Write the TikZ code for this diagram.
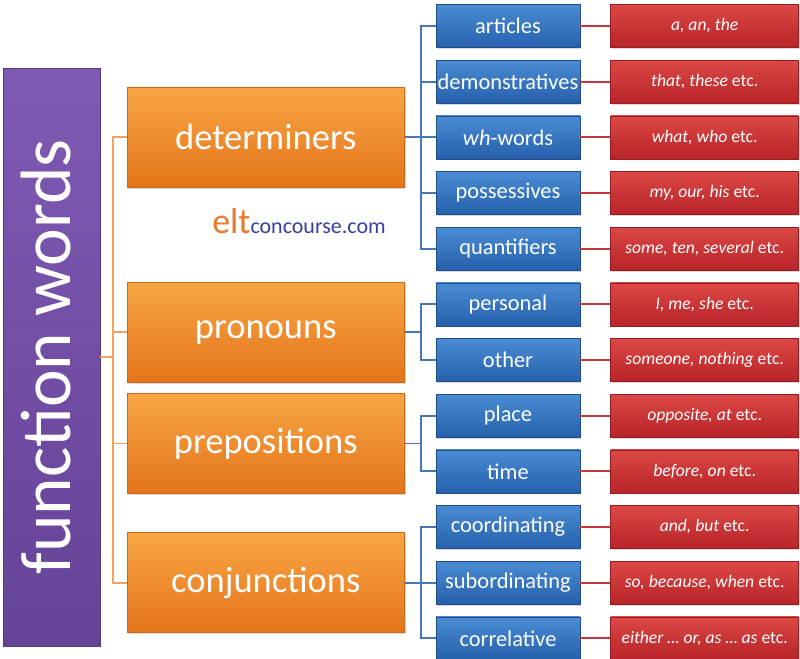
\documentclass[tikz,border=0pt]{standalone}
\usepackage{fontspec}
\setmainfont{Carlito}
\usetikzlibrary{positioning, calc, shadows}
\definecolor{purpletop}{HTML}{7F5AB3}
\definecolor{purplebot}{HTML}{654397}
\definecolor{orangetop}{HTML}{F8A645}
\definecolor{orangebot}{HTML}{E4741A}
\definecolor{bluetop}{HTML}{4A8CD4}
\definecolor{bluebot}{HTML}{2660AC}
\definecolor{redtop}{HTML}{DC4845}
\definecolor{redbot}{HTML}{B82428}
\definecolor{linkorange}{HTML}{F0A260}
\definecolor{linkblue}{HTML}{4678B8}
\definecolor{linkred}{HTML}{C43A3A}
\definecolor{logoorange}{HTML}{E97A2C}
\definecolor{logoblue}{HTML}{3A3CA6}

\begin{document}
\begin{tikzpicture}[
    x=0.75pt, y=-0.75pt,
    every node/.style={text=white},
    rootbox/.style={rectangle, minimum width=72.75pt, minimum height=433.5pt, inner sep=0pt, top color=purpletop, bottom color=purplebot, draw=purplebot!85!black, line width=0.5pt, drop shadow={shadow xshift=1pt, shadow yshift=-1pt, opacity=0.3}, font=\fontsize{53.5}{54}\selectfont},
    catbox/.style={rectangle, minimum width=207.75pt, minimum height=75pt, inner sep=1pt, top color=orangetop, bottom color=orangebot, draw=orangebot!90!black, line width=0.5pt, drop shadow={shadow xshift=1pt, shadow yshift=-1pt, opacity=0.3}, font=\fontsize{27.4}{30}\selectfont},
    subbox/.style={rectangle, minimum width=108pt, minimum height=32.25pt, inner sep=1pt, top color=bluetop, bottom color=bluebot, draw=bluebot!80!black, line width=0.5pt, drop shadow={shadow xshift=1pt, shadow yshift=-1pt, opacity=0.3}, font=\fontsize{16.8}{18}\selectfont},
    exbox/.style={rectangle, minimum width=141pt, minimum height=32.25pt, inner sep=1pt, top color=redtop, bottom color=redbot, draw=redbot!80!black, line width=0.5pt, drop shadow={shadow xshift=1pt, shadow yshift=-1pt, opacity=0.3}, font=\fontsize{13.2}{15}\selectfont},
    trunk/.style={draw=linkorange, line width=1.4pt},
    branch/.style={draw=linkblue, line width=1.4pt},
    twig/.style={draw=linkred, line width=1.4pt}
]
    \useasboundingbox (0,0) rectangle (800,658);

    % Root
    \node[rootbox] (root) at (51.5,357) {\rotatebox{90}{\raisebox{4pt}[\height][0pt]{function words}}};

    % Sub-categories, top to bottom
    \node[subbox] (articles) at (508,26) {articles};
    \node[subbox, below=9pt of articles] (demonstr) {demonstratives};
    \node[subbox, below=9pt of demonstr] (whwords) {\textit{wh}-words};
    \node[subbox, below=9pt of whwords] (possess) {possessives};
    \node[subbox, below=9pt of possess] (quant) {quantifiers};
    \node[subbox, below=9pt of quant] (personal) {personal};
    \node[subbox, below=9pt of personal] (other) {other};
    \node[subbox, below=9pt of other] (place) {place};
    \node[subbox, below=9pt of place] (time) {time};
    \node[subbox, below=9pt of time] (coord) {coordinating};
    \node[subbox, below=9pt of coord] (subord) {subordinating};
    \node[subbox, below=9pt of subord] (correl) {correlative};

    % Examples
    \node[exbox, right=22.5pt of articles] (articlesex) {\textit{a, an, the}};
    \node[exbox, right=22.5pt of demonstr] (demonstrex) {\textit{that, these} etc.};
    \node[exbox, right=22.5pt of whwords] (whwordsex) {\textit{what, who} etc.};
    \node[exbox, right=22.5pt of possess] (possessex) {\textit{my, our, his} etc.};
    \node[exbox, right=22.5pt of quant] (quantex) {\textit{some, ten, several} etc.};
    \node[exbox, right=22.5pt of personal] (personalex) {\textit{I, me, she} etc.};
    \node[exbox, right=22.5pt of other] (otherex) {\textit{someone, nothing} etc.};
    \node[exbox, right=22.5pt of place] (placeex) {\textit{opposite, at} etc.};
    \node[exbox, right=22.5pt of time] (timeex) {\textit{before, on} etc.};
    \node[exbox, right=22.5pt of coord] (coordex) {\textit{and, but} etc.};
    \node[exbox, right=22.5pt of subord] (subordex) {\textit{so, because, when} etc.};
    \node[exbox, right=22.5pt of correl] (correlex) {\textit{either … or, as … as} etc.};

    % Categories
    \node[catbox, left=23.25pt of whwords] (det) {determiners};
    \node[catbox, anchor=east, xshift=-23.25pt] (pron) at ($(personal.west)!0.5!(other.west)$) {pronouns};
    \node[catbox, anchor=east, xshift=-23.25pt] (prep) at ($(place.west)!0.5!(time.west)$) {prepositions};
    \node[catbox, left=23.25pt of subord] (conj) {conjunctions};

    % Logo
    \node[anchor=base west, inner sep=0pt] (logo) at (212,233) {\textcolor{logoorange}{\fontsize{27}{27}\selectfont elt}\textcolor{logoblue}{\fontsize{16.5}{16.5}\selectfont concourse.com}};

    % Root to categories
    \coordinate (spine) at ($(root.east)+(9.75pt,0)$);
    \draw[trunk] (root.east) -- (spine);
    \draw[trunk] (spine) |- (det.west);
    \draw[trunk] (spine) |- (pron.west);
    \draw[trunk] (spine) |- (prep.west);
    \draw[trunk] (spine) |- (conj.west);

    % Categories to sub-categories
    \coordinate (detfork) at ($(det.east)+(12pt,0)$);
    \coordinate (pronfork) at ($(pron.east)+(12pt,0)$);
    \coordinate (prepfork) at ($(prep.east)+(12pt,0)$);
    \coordinate (conjfork) at ($(conj.east)+(12pt,0)$);
    \draw[branch] (det.east) -- (detfork);
    \draw[branch] (detfork) |- (articles.west);
    \draw[branch] (detfork) |- (demonstr.west);
    \draw[branch] (detfork) |- (whwords.west);
    \draw[branch] (detfork) |- (possess.west);
    \draw[branch] (detfork) |- (quant.west);
    \draw[branch] (pron.east) -- (pronfork);
    \draw[branch] (pronfork) |- (personal.west);
    \draw[branch] (pronfork) |- (other.west);
    \draw[branch] (prep.east) -- (prepfork);
    \draw[branch] (prepfork) |- (place.west);
    \draw[branch] (prepfork) |- (time.west);
    \draw[branch] (conj.east) -- (conjfork);
    \draw[branch] (conjfork) |- (coord.west);
    \draw[branch] (conjfork) |- (subord.west);
    \draw[branch] (conjfork) |- (correl.west);

    % Sub-categories to examples
    \draw[twig] (articles) -- (articlesex);
    \draw[twig] (demonstr) -- (demonstrex);
    \draw[twig] (whwords) -- (whwordsex);
    \draw[twig] (possess) -- (possessex);
    \draw[twig] (quant) -- (quantex);
    \draw[twig] (personal) -- (personalex);
    \draw[twig] (other) -- (otherex);
    \draw[twig] (place) -- (placeex);
    \draw[twig] (time) -- (timeex);
    \draw[twig] (coord) -- (coordex);
    \draw[twig] (subord) -- (subordex);
    \draw[twig] (correl) -- (correlex);
\end{tikzpicture}
\end{document}
